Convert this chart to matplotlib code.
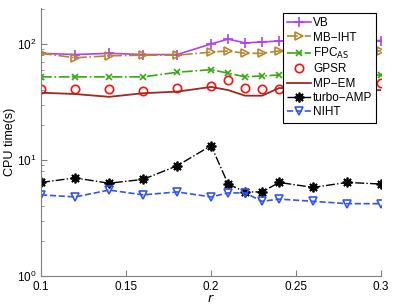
import numpy as np
import matplotlib
matplotlib.use('Agg')
import matplotlib.pyplot as plt
from matplotlib.ticker import LogLocator, NullFormatter

r = [0.1, 0.12, 0.14, 0.16, 0.18, 0.2, 0.21, 0.22, 0.23, 0.24, 0.26, 0.28, 0.3]
vb = [83, 81, 83, 81, 81, 100, 110, 102, 104, 106, 106, 107, 107]
mb_iht = [83, 76, 79, 80, 80, 85, 87, 83, 83, 87, 86, 86, 87]
fpc_as = [52, 52, 52, 52, 57, 60, 56, 52, 53, 54, 53, 53, 54]
gpsr = [41, 41, 41, 39, 42, 43.5, 49, 42, 41, 41, 42, 42, 46]
mp_em = [38, 37, 35, 37.6, 38.8, 42.6, 40, 35.8, 35.8, 41.7, 40, 40, 40]
turbo_amp = [6.4, 7.0, 6.3, 6.8, 8.9, 13.3, 6.2, 5.3, 5.3, 6.4, 5.8, 6.4, 6.2]
niht = [5.0, 4.8, 5.5, 5.0, 5.3, 4.8, 5.2, 5.2, 4.4, 4.6, 4.4, 4.2, 4.2]

plt.rcParams['font.family'] = ['Liberation Sans', 'DejaVu Sans']
fig = plt.figure(figsize=(3.95, 3.08), dpi=100)
ax = fig.add_axes([0.104, 0.104, 0.861, 0.870])

ms = 6
ax.plot(r, vb, '-', color='#B040F5', marker='+', ms=7, mew=1.2, lw=1.2, label='VB')
ax.plot(r, mb_iht, '-.', color='#B8862B', marker='>', ms=ms, mfc='none', mew=1.2, lw=1.2, label='MB\u2212IHT')
ax.plot(r, fpc_as, '-.', color='#33AA11', marker='x', ms=5, mew=1.2, lw=1.2, label='FPC$_{\\rm AS}$')
ax.plot(r, gpsr, 'o', color='#FF1010', ms=ms, mfc='none', mew=1.2, label='GPSR')
ax.plot(r, mp_em, '-', color='#A0281E', lw=1.3, label='MP\u2212EM')
ax.plot(r, turbo_amp, '-.', color='black', marker=(8, 2, 0), ms=7, mew=1.3, lw=1.0, label='turbo\u2212AMP')
ax.plot(r, niht, '--', color='#3355EE', marker='v', ms=ms, mfc='none', mew=1.2, lw=1.2, label='NIHT')

ax.set_yscale('log')
ax.set_ylim(1, 204)
ax.set_xlim(0.1, 0.3)
ax.set_xticks([0.1, 0.15, 0.2, 0.25, 0.3])
ax.set_xticklabels(['0.1', '0.15', '0.2', '0.25', '0.3'])
ax.yaxis.set_minor_locator(LogLocator(base=10, subs=np.arange(2, 10)))
ax.yaxis.set_minor_formatter(NullFormatter())

for s in ['top', 'right']:
    ax.spines[s].set_visible(False)
for s in ['left', 'bottom']:
    ax.spines[s].set_color('#808080')
    ax.spines[s].set_linewidth(0.8)
ax.tick_params(which='both', direction='in', colors='#808080', labelcolor='black', labelsize=8.5)
ax.tick_params(which='major', length=4)
ax.tick_params(which='minor', length=2)

ax.set_xlabel('$r$', fontsize=9, labelpad=0)
ax.set_ylabel('CPU time(s)', fontsize=9)
ax.yaxis.set_label_coords(-0.075, 0.5)

leg = ax.legend(loc='upper left', bbox_to_anchor=(0.712, 0.981), fontsize=8.5, frameon=True,
                fancybox=False, edgecolor='black', framealpha=1, handlelength=2.0,
                handletextpad=0.17, labelspacing=0.2, borderpad=0.35, borderaxespad=0)
leg.get_frame().set_linewidth(0.8)

fig.savefig('out.png', dpi=100)
